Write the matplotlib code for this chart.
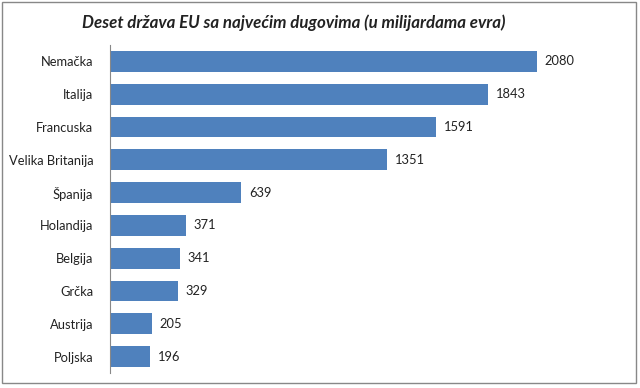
import matplotlib.pyplot as plt
from matplotlib.patches import Rectangle

# podaci
drzave = ['Nemačka', 'Italija', 'Francuska', 'Velika Britanija', 'Španija',
          'Holandija', 'Belgija', 'Grčka', 'Austrija', 'Poljska']
dugovi = [2080, 1843, 1591, 1351, 639, 371, 341, 329, 205, 196]

plt.rcParams['font.family'] = ['Lato', 'DejaVu Sans']

fig = plt.figure(figsize=(6.4, 3.88), dpi=100)
ax = fig.add_axes([110 / 640, 15 / 388, 513 / 640, 328 / 388])

y = list(range(len(drzave)))
ax.barh(y, dugovi, height=0.64, color='#4F81BD')
for yi, v in zip(y, dugovi):
    ax.text(v + 38, yi, str(v), va='center', ha='left', fontsize=9.3, color='#222222')

ax.set_yticks(y)
ax.set_yticklabels(drzave, fontsize=9.3, color='#222222')
ax.tick_params(axis='y', length=0, pad=12)
ax.set_xticks([])
ax.set_xlim(0, 2500)
ax.set_ylim(len(drzave) - 0.5, -0.5)

for s in ['top', 'right', 'bottom']:
    ax.spines[s].set_visible(False)
ax.spines['left'].set_color('#888888')

fig.text(294 / 640, 1 - 23 / 388, 'Deset država EU sa najvećim dugovima (u milijardama evra)',
         ha='center', va='center', fontsize=12.2, fontweight='bold', fontstyle='italic', color='#222222')

# okvir oko grafikona
fig.patches.append(Rectangle((2 / 640, 5 / 388), 634 / 640, 381 / 388, transform=fig.transFigure,
                             fill=False, edgecolor='#888888', linewidth=1))

fig.savefig('out.png', dpi=100)
